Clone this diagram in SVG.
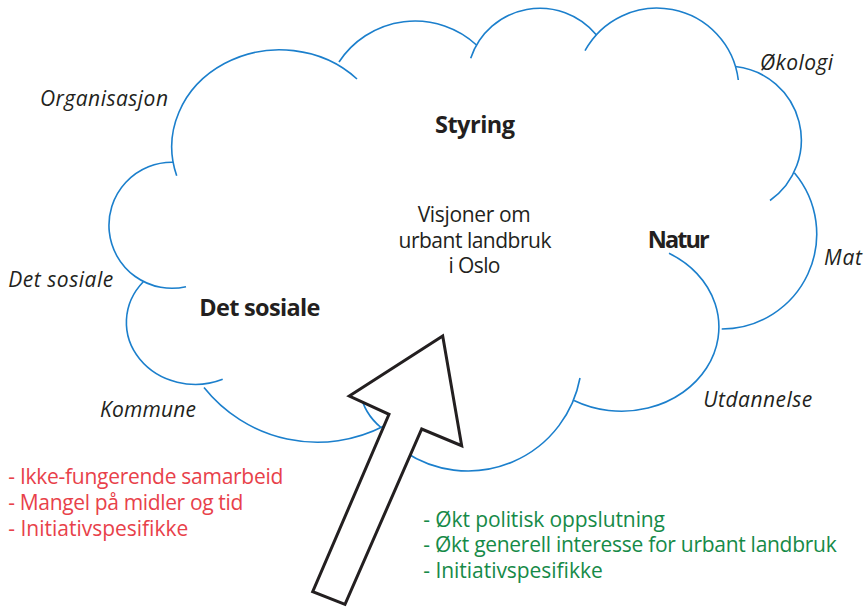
<svg xmlns="http://www.w3.org/2000/svg" width="864" height="607" viewBox="0 0 864 607">
<style>
.arc{fill:none;stroke:#1b7fcc;stroke-width:1.6}
.t{font-family:"Open Sans","Noto Sans","Liberation Sans",sans-serif;fill:#231f20}
.it{font-style:italic;font-size:21px}
.b{font-weight:700;font-size:23.5px}
.r{font-size:21px}
.red{fill:#e8414a}
.green{fill:#168a48}
.arrow{fill:#fff;stroke:#231f20;stroke-width:3;stroke-linejoin:miter}
</style>
<rect width="864" height="607" fill="#fff"/>
<g id="cloud">
<path class="arc" d="M176.7,175.7 A108,97 0 0,1 357,79"/>
<path class="arc" d="M339,62 A91,91 0 0,1 476.5,45"/>
<path class="arc" d="M470.7,58.3 A73,73 0 0,1 596.5,35"/>
<path class="arc" d="M585,50.7 A82,82 0 0,1 738.3,80"/>
<path class="arc" d="M735.5,66.5 A74,74 0 0,1 770,200.5"/>
<path class="arc" d="M794.3,172.7 A95,95 0 0,1 721.7,329"/>
<path class="arc" d="M669,253.3 A97,84 0 1,1 574,400.5"/>
<path class="arc" d="M580,378 A114,114 0 0,1 405,452"/>
<path class="arc" d="M173.3,162.3 A63,63 0 1,0 186,286.7"/>
<path class="arc" d="M143.3,281.7 A69,62 0 0,0 222.7,379.3"/>
<path class="arc" d="M204,387.5 A145,145 0 0,0 384,426"/>
<path class="arc" d="M381,427.5 A60,60 0 0,1 360,392"/>
</g>
<g id="arrow">
<polygon class="arrow" points="442.7,336 461.7,445.7 421.7,429 345,604.3 312.7,591.7 389,414.3 349.3,396"/>
</g>
<g id="center-text" class="t r" text-anchor="middle">
<text x="474.2" y="221.7" textLength="113" lengthAdjust="spacing">Visjoner om</text>
<text x="475" y="247.7" textLength="153" lengthAdjust="spacing">urbant landbruk</text>
<text x="474.5" y="272.7" textLength="52" lengthAdjust="spacing">i Oslo</text>
</g>
<g id="node-styring"><text class="t b" x="435" y="133.3" textLength="80" lengthAdjust="spacing">Styring</text></g>
<g id="node-natur"><text class="t b" x="647.7" y="248.3" textLength="62" lengthAdjust="spacing">Natur</text></g>
<g id="node-det-sosiale"><text class="t b" x="199.3" y="315.7" textLength="121" lengthAdjust="spacing">Det sosiale</text></g>
<g id="label-organisasjon"><text class="t it" x="40" y="106" textLength="128" lengthAdjust="spacing">Organisasjon</text></g>
<g id="label-okologi"><text class="t it" x="760" y="70" textLength="73" lengthAdjust="spacing">Økologi</text></g>
<g id="label-mat"><text class="t it" x="824" y="265" textLength="38" lengthAdjust="spacing">Mat</text></g>
<g id="label-det-sosiale"><text class="t it" x="8.3" y="286.7" textLength="105" lengthAdjust="spacing">Det sosiale</text></g>
<g id="label-kommune"><text class="t it" x="100" y="417" textLength="96" lengthAdjust="spacing">Kommune</text></g>
<g id="label-utdannelse"><text class="t it" x="703.3" y="406.7" textLength="109" lengthAdjust="spacing">Utdannelse</text></g>
<g id="barriers" class="t r red">
<text class="red" x="8.3" y="484.3" textLength="275" lengthAdjust="spacing">- Ikke-fungerende samarbeid</text>
<text class="red" x="8.3" y="510" textLength="235" lengthAdjust="spacing">- Mangel på midler og tid</text>
<text class="red" x="8.3" y="535.5" textLength="180" lengthAdjust="spacing">- Initiativspesifikke</text>
</g>
<g id="drivers" class="t r green">
<text class="green" x="423.3" y="526.7" textLength="241.7" lengthAdjust="spacing">- Økt politisk oppslutning</text>
<text class="green" x="423.3" y="552.3" textLength="413.4" lengthAdjust="spacing">- Økt generell interesse for urbant landbruk</text>
<text class="green" x="423.3" y="577.7" textLength="179.4" lengthAdjust="spacing">- Initiativspesifikke</text>
</g>
</svg>
